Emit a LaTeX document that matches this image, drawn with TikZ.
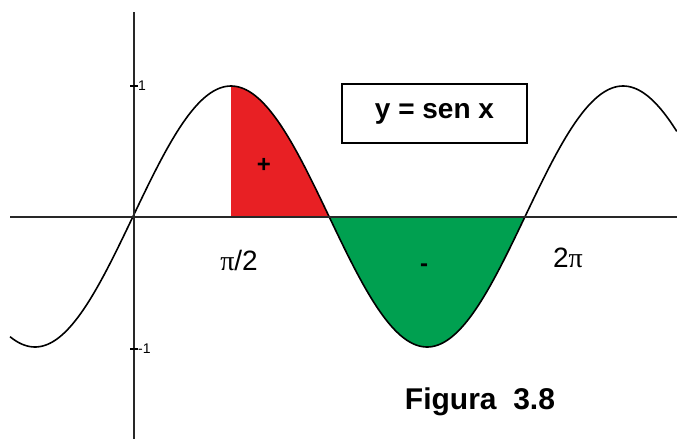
\documentclass[tikz,border=0pt]{standalone}
\usepackage{fontspec}
\setmainfont{Liberation Sans}
\newfontfamily\pifont{Liberation Serif}
\begin{document}
\begin{tikzpicture}[x=1pt,y=-1pt,
  axisline/.style={line width=2pt,draw={rgb,255:red,40;green,40;blue,40}},
  curveline/.style={line width=1.6pt,draw=black},
  lbl/.style={inner sep=0pt,font=\fontsize{28}{32}\selectfont},
  ticklbl/.style={inner sep=0pt,font=\fontsize{14}{16}\selectfont,anchor=west},
  signlbl/.style={inner sep=0pt,font=\bfseries\fontsize{24}{28}\selectfont}]
\definecolor{redfill}{RGB}{232,32,36}
\definecolor{greenfill}{RGB}{0,160,80}
\useasboundingbox (0,0) rectangle (677,439);
\fill[white] (0,0) rectangle (677,439);
% filled regions
\fill[redfill] (231,216.5) -- plot[domain=pi/2:pi,samples=60,smooth] ({133+62.4*\x},{216.5-130.5*sin(\x r)}) -- cycle;
\fill[greenfill] plot[domain=pi:2*pi,samples=100,smooth] ({133+62.4*\x},{216.5-130.5*sin(\x r)}) -- cycle;
% curve
\draw[curveline] plot[domain=-1.971:8.718,samples=300,smooth] ({133+62.4*\x},{216.5-130.5*sin(\x r)});
% axes
\coordinate (xl) at (10,216.5);
\coordinate (xr) at (677,216.5);
\coordinate (yt) at (133.5,12);
\coordinate (yb) at (133.5,439);
\draw[axisline] (xl) -- (xr);
\draw[axisline] (yt) -- (yb);
% ticks
\coordinate (t1a) at (130,86);
\coordinate (t1b) at (138,86);
\coordinate (t2a) at (130,349);
\coordinate (t2b) at (138,349);
\draw[line width=1.5pt] (t1a) -- (t1b);
\draw[line width=1.5pt] (t2a) -- (t2b);
\node[ticklbl] (one) at (138,86) {1};
\node[ticklbl] (mone) at (138,349) {-1};
% labels
\node[lbl] (pihalf) at (239,260) {{\pifont π}/2};
\node[lbl] (twopi) at (568,258) {2{\pifont π}};
\node[signlbl] (plus) at (264,165) {+};
\node[signlbl] (minus) at (424,268) {-};
\node[draw,line width=1.8pt,minimum width=185pt,minimum height=59pt,inner sep=0pt,
      font=\bfseries\fontsize{28}{30}\selectfont] (eq) at (434.5,113.5) {y = sen x};
\node[inner sep=0pt,font=\bfseries\fontsize{30}{33}\selectfont] (fig) at (480,402) {Figura\ \ 3.8};
\end{tikzpicture}
\end{document}
